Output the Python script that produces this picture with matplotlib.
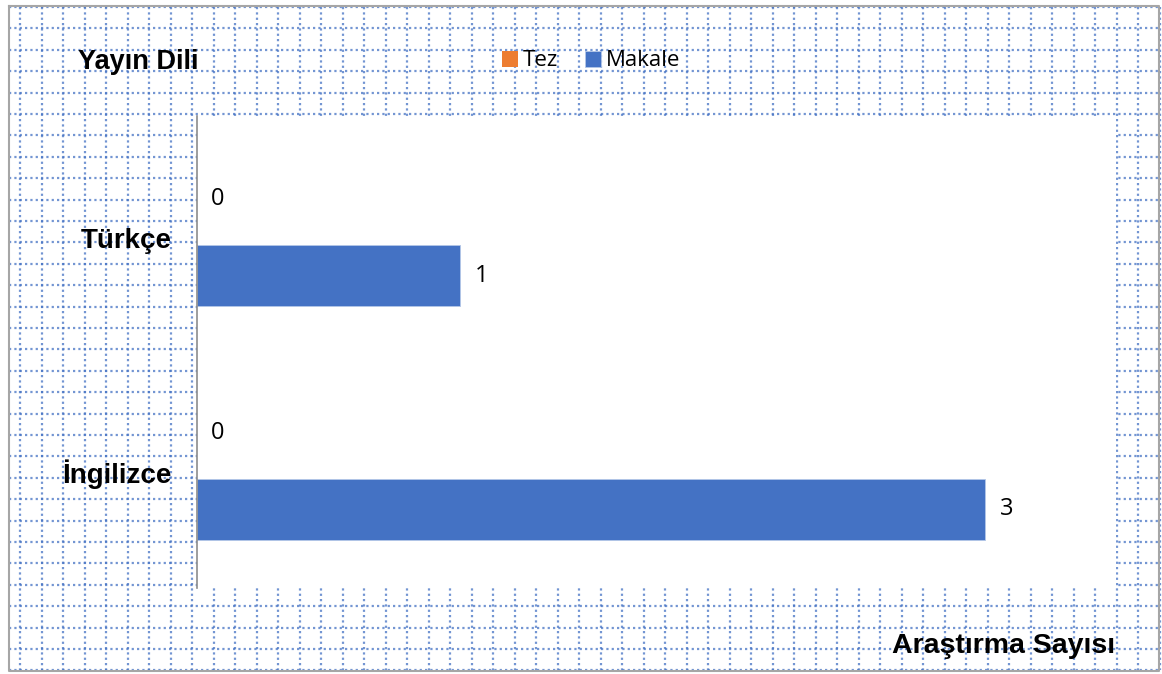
import matplotlib.pyplot as plt
import numpy as np

# Data
languages = ['Türkçe', 'İngilizce']
tez = [0, 0]
makale = [1, 3]
series_names = ['Tez', 'Makale']
x_title = 'Araştırma Sayısı'
y_title = 'Yayın Dili'

W, H = 1162, 674
fig = plt.figure(figsize=(W / 100, H / 100), dpi=100)
fig.patch.set_facecolor('white')

# dotted blue background grid (in pixel coords)
bg = fig.add_axes([0, 0, 1, 1])
bg.set_xlim(0, W)
bg.set_ylim(H, 0)
bg.axis('off')
for gx in np.arange(20, 1160, 21.5):
    bg.plot([gx, gx], [7, 670], color='#4472C4', alpha=0.75, lw=1.6,
            linestyle=(0, (1.0, 1.4)))
for gy in np.arange(7, 671, 21.4):
    bg.plot([9, 1159], [gy, gy], color='#4472C4', alpha=0.75, lw=1.6,
            linestyle=(0, (1.0, 1.4)))
bg.plot([9, 1159, 1159, 9, 9], [6, 6, 671, 671, 6], color='#a6a6a6', lw=1.5)

# titles
fig.text(78 / W, 1 - 62 / H, y_title, fontsize=19.5, fontweight='bold',
         family='Liberation Sans', va='center', ha='left')
fig.text(1115 / W, 1 - 646 / H, x_title, fontsize=20.5, fontweight='bold',
         family='Liberation Sans', va='center', ha='right')

# main chart
ax = fig.add_axes([197 / W, 1 - 588 / H, (1116 - 197) / W, (588 - 116) / H])
ax.set_facecolor('white')
ypos = np.arange(len(languages))
off = 0.163
h = 0.262
b_tez = ax.barh(ypos - off, tez, height=h, color='#ED7D31', label=series_names[0])
b_mak = ax.barh(ypos + off, makale, height=h, color='#4472C4', label=series_names[1],
                edgecolor='#b4c7e7', linewidth=0.6)
ax.bar_label(b_tez, padding=10, fontsize=17, family='Open Sans')
ax.bar_label(b_mak, padding=11, fontsize=17, family='Open Sans')

ax.set_xlim(0, 3.5)
ax.set_ylim(1.5, -0.52)
ax.set_xticks([])
ax.set_yticks(ypos)
ax.set_yticklabels(languages, fontsize=20, fontweight='bold', family='Liberation Sans')
ax.tick_params(axis='y', length=0, pad=18)
for s in ['top', 'right', 'bottom']:
    ax.spines[s].set_visible(False)
ax.spines['left'].set_color('#8c8c8c')
ax.spines['left'].set_linewidth(1.2)

fig.legend(handles=[b_tez, b_mak], loc='center', bbox_to_anchor=(591 / W, 1 - 61 / H),
           ncol=2, frameon=False, handlelength=0.75, handleheight=0.75,
           handletextpad=0.2, columnspacing=1.2, prop={'family': 'Open Sans', 'size': 16})

fig.savefig('out.png', dpi=100)
